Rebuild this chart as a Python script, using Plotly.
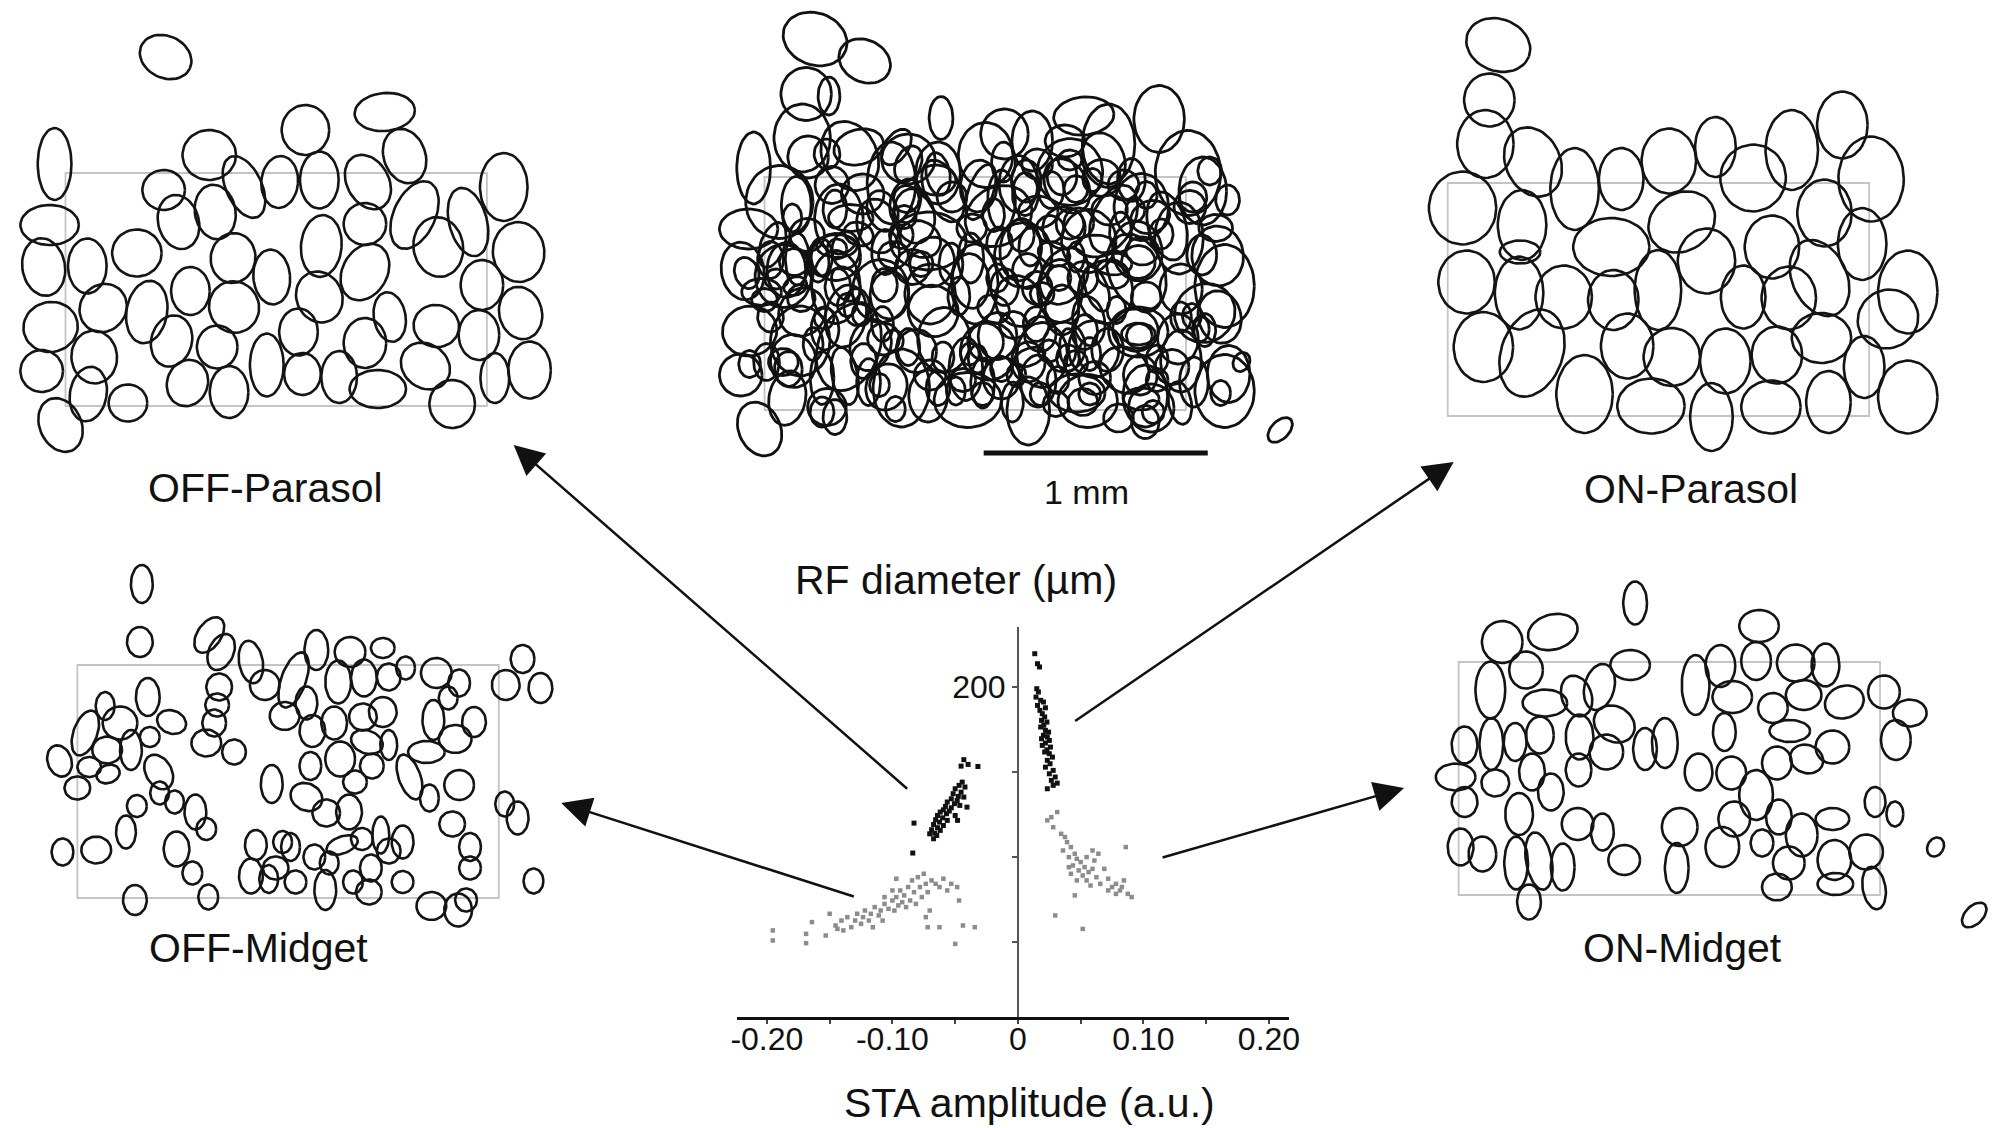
import numpy as np
import plotly.graph_objects as go

W, H = 2011, 1128
FONT = "Liberation Sans, Arial, Helvetica, sans-serif"

# ---------------- scatter: STA amplitude vs RF diameter ----------------
OFFP_AMP = [-0.0431, -0.0397, -0.0319, -0.0453, -0.0444, -0.0469, -0.0422, -0.0500, -0.0453, -0.0516,
            -0.0475, -0.0431, -0.0531, -0.0484, -0.0563, -0.0506, -0.0463, -0.0578, -0.0531, -0.0594,
            -0.0547, -0.0619, -0.0569, -0.0641, -0.0500, -0.0600, -0.0656, -0.0563, -0.0625, -0.0672,
            -0.0594, -0.0641, -0.0688, -0.0619, -0.0663, -0.0703, -0.0647, -0.0672, -0.0828, -0.0838,
            -0.0406, -0.0481]
OFFP_DIAM = [157.3, 154.5, 153.3, 153.5, 144.1, 142.2, 141.2, 140.2, 138.2, 137.3,
             135.7, 135.3, 134.3, 133.3, 132.4, 131.4, 130.4, 129.8, 129.0, 127.8,
             127.1, 126.5, 125.5, 124.5, 124.5, 123.1, 122.0, 121.6, 120.6, 119.2,
             118.6, 117.3, 116.1, 115.7, 114.1, 113.7, 112.7, 110.8, 120.0, 102.4,
             129.4, 121.6]
ONP_AMP = [0.0134, 0.0156, 0.0172, 0.0150, 0.0163, 0.0144, 0.0181, 0.0203, 0.0156, 0.0219,
           0.0175, 0.0194, 0.0213, 0.0188, 0.0231, 0.0206, 0.0181, 0.0219, 0.0244, 0.0203,
           0.0234, 0.0188, 0.0250, 0.0219, 0.0194, 0.0259, 0.0231, 0.0213, 0.0250, 0.0275,
           0.0234, 0.0256, 0.0219, 0.0281, 0.0250, 0.0297, 0.0266, 0.0313, 0.0281, 0.0234]
ONP_DIAM = [219.6, 213.7, 211.8, 199.0, 197.1, 194.1, 192.2, 191.2, 189.2, 187.8,
            186.3, 184.3, 182.4, 180.4, 179.4, 177.5, 176.5, 174.5, 173.5, 171.6,
            170.6, 169.6, 168.6, 167.1, 165.7, 164.7, 163.1, 161.8, 160.8, 158.8,
            156.9, 154.9, 152.9, 151.0, 149.0, 147.1, 145.1, 143.5, 142.2, 140.2]
OFFM_AMP = [-0.1953, -0.1953, -0.1688, -0.1688, -0.1641, -0.1531, -0.1500, -0.1453, -0.1438, -0.1406,
            -0.1391, -0.1359, -0.1328, -0.1297, -0.1281, -0.1250, -0.1234, -0.1219, -0.1188, -0.1172,
            -0.1156, -0.1141, -0.1109, -0.1094, -0.1078, -0.1063, -0.1031, -0.1000, -0.0984, -0.0969,
            -0.0953, -0.0938, -0.0922, -0.0906, -0.0891, -0.0875, -0.0859, -0.0844, -0.0828, -0.0813,
            -0.0797, -0.0781, -0.0766, -0.0750, -0.0734, -0.0719, -0.0703, -0.0688, -0.0656, -0.0625,
            -0.0594, -0.0563, -0.0531, -0.0484, -0.0469, -0.0734, -0.0719, -0.0625, -0.0500, -0.0438,
            -0.0344, -0.0969, -0.1000, -0.1063]
OFFM_DIAM = [56.9, 51.0, 54.9, 49.4, 61.8, 53.9, 66.7, 59.8, 57.8, 62.7,
             56.9, 64.7, 58.8, 62.7, 66.7, 60.8, 64.7, 68.6, 62.7, 66.7,
             58.8, 70.6, 65.7, 68.6, 62.7, 72.5, 69.6, 74.5, 68.6, 76.5,
             71.6, 80.4, 73.5, 77.5, 70.6, 82.4, 74.5, 86.3, 79.4, 72.5,
             88.2, 82.4, 76.5, 90.2, 84.3, 79.4, 68.6, 86.3, 84.3, 82.4,
             87.3, 80.4, 84.3, 82.4, 74.5, 64.7, 58.8, 58.8, 49.0, 59.8,
             58.8, 87.3, 80.4, 76.5]
ONM_AMP = [0.0234, 0.0266, 0.0313, 0.0281, 0.0344, 0.0375, 0.0391, 0.0422, 0.0359, 0.0453,
           0.0406, 0.0469, 0.0500, 0.0438, 0.0531, 0.0484, 0.0563, 0.0594, 0.0516, 0.0625,
           0.0547, 0.0656, 0.0578, 0.0422, 0.0609, 0.0641, 0.0688, 0.0719, 0.0750, 0.0781,
           0.0813, 0.0844, 0.0859, 0.0875, 0.0906, 0.0781, 0.0719, 0.0828, 0.0453, 0.0297,
           0.0516, 0.0469, 0.0594, 0.0547, 0.0406]
ONM_DIAM = [121.6, 123.5, 126.5, 117.6, 113.7, 111.8, 108.8, 105.9, 103.9, 102.0,
            100.0, 99.0, 97.1, 95.1, 94.1, 92.2, 91.2, 93.1, 89.2, 88.2,
            86.3, 84.3, 83.3, 90.2, 98.0, 102.0, 93.1, 87.3, 82.4, 84.3,
            80.4, 86.3, 105.9, 78.4, 76.5, 78.4, 80.4, 82.4, 77.5, 65.7,
            57.8, 86.3, 103.9, 100.0, 94.1]

X_TICKS = [-0.20, -0.15, -0.10, -0.05, 0.0, 0.05, 0.10, 0.15, 0.20]
X_TICK_TEXT = ["-0.20", "", "-0.10", "", "0", "", "0.10", "", "0.20"]
Y_TICKS = [50, 100, 150, 200]
Y_TICK_TEXT = ["", "", "", "200"]

# ---------------- receptive-field mosaics ----------------
# each RF: (centre x, centre y, width, height, tilt deg clockwise), array units, y downward
OFF_PARASOL_RF = [
    (101, -116, 54, 42, 25), (-11, -9, 34, 72, 0), (-16, 52, 59, 40, 0), (145, -18, 54, 50, 0),
    (242, -43, 48, 50, 0), (322, -61, 61, 38, -5), (342, -17, 42, 56, -20), (442, 14, 48, 68, 0),
    (99, 17, 43, 40, 0), (114, 49, 41, 55, -15), (151, 39, 41, 55, -10), (180, 14, 36, 66, -25),
    (216, 9, 37, 52, 5), (256, 7, 39, 57, 0), (305, 9, 42, 58, -30), (352, 42, 42, 72, 25),
    (302, 51, 43, 42, 0), (406, 49, 38, 70, -15), (376, 74, 50, 60, -10), (457, 79, 52, 60, -5),
    (-22, 94, 43, 58, -10), (22, 93, 39, 55, 0), (72, 80, 50, 47, 0), (169, 85, 45, 50, 10),
    (208, 104, 37, 55, -5), (258, 73, 41, 62, 5), (302, 99, 45, 60, 30), (420, 112, 43, 50, 0),
    (459, 140, 43, 53, -15), (417, 162, 41, 50, 0), (374, 153, 46, 42, 10), (327, 144, 32, 50, -10),
    (302, 170, 43, 50, 0), (256, 124, 46, 52, -25), (235, 159, 39, 47, 0), (203, 192, 34, 63, 0),
    (239, 201, 37, 42, 0), (276, 204, 36, 52, 0), (315, 216, 57, 38, 0), (363, 193, 52, 44, 35),
    (390, 231, 46, 48, 0), (433, 205, 29, 50, 0), (468, 197, 43, 57, 0), (165, 219, 39, 52, 0),
    (123, 210, 41, 47, 20), (153, 174, 41, 43, 0), (170, 134, 50, 52, -30), (126, 118, 39, 48, 0),
    (107, 168, 41, 52, 15), (82, 139, 41, 63, 10), (38, 135, 46, 50, 40), (-15, 154, 55, 50, -10),
    (29, 184, 46, 53, -5), (-24, 198, 43, 42, 0), (23, 221, 37, 55, 10), (63, 230, 39, 37, 0),
    (-5, 252, 42, 56, -25),
]
ON_PARASOL_RF = [
    (51, -138, 66, 52, 20), (42, -83, 51, 53, 0), (38, -39, 57, 68, 0), (86, -21, 55, 72, -25),
    (128, 6, 49, 82, 0), (175, -4, 45, 62, 0), (223, -22, 55, 65, 0), (270, -36, 41, 60, 0),
    (308, -5, 66, 67, 20), (347, -33, 53, 80, 0), (398, -58, 51, 67, 0), (427, -4, 66, 85, 0),
    (380, 30, 55, 67, 0), (418, 61, 49, 72, 0), (464, 109, 60, 83, 0), (444, 136, 62, 58, -30),
    (464, 214, 60, 73, 0), (420, 184, 41, 62, 0), (384, 219, 45, 62, 0), (377, 155, 60, 50, 0),
    (375, 95, 55, 80, -25), (327, 64, 55, 63, 0), (344, 115, 55, 63, 0), (332, 172, 51, 57, 0),
    (326, 224, 60, 53, 0), (266, 234, 43, 68, 0), (280, 178, 51, 65, 0), (298, 114, 45, 63, 0),
    (261, 78, 58, 65, 0), (236, 39, 70, 58, -30), (165, 64, 77, 58, 0), (117, 114, 57, 63, 0),
    (167, 117, 51, 60, 0), (212, 107, 47, 80, 0), (181, 163, 53, 65, 0), (226, 174, 57, 58, 0),
    (205, 223, 68, 55, 0), (138, 211, 57, 78, 0), (85, 170, 62, 90, 20), (36, 164, 60, 70, 0),
    (19, 99, 57, 63, 0), (72, 110, 49, 73, 0), (75, 42, 49, 70, 0), (15, 25, 68, 73, 0),
    (73, 69, 41, 23, 0),
]
OFF_MIDGET_RF = [
    (65, -81, 22, 38, 0), (63, -23, 26, 30, 0), (133, -30, 24, 40, 35), (145, -13, 25, 38, 25),
    (175, -3, 24, 43, -10), (189, 20, 30, 30, 0), (218, 15, 25, 58, 20), (241, -15, 24, 40, 0),
    (275, -13, 31, 30, 0), (308, -17, 24, 20, 0), (331, 3, 19, 23, 0), (362, 8, 31, 30, 0),
    (385, 18, 22, 27, 0), (449, -6, 24, 28, 0), (432, 20, 28, 30, 0), (467, 23, 24, 30, 0),
    (263, 17, 26, 43, 0), (289, 13, 26, 37, 0), (314, 12, 24, 27, 0), (143, 22, 26, 27, 0),
    (141, 40, 24, 23, 0), (138, 58, 24, 27, 0), (130, 78, 30, 27, 0), (158, 87, 24, 25, 0),
    (71, 32, 24, 38, 0), (28, 41, 19, 28, 0), (8, 68, 24, 47, 20), (43, 58, 35, 33, 0),
    (95, 57, 30, 23, 20), (73, 72, 20, 20, 0), (54, 85, 22, 40, 0), (30, 85, 30, 27, 0),
    (-18, 96, 24, 32, -20), (12, 102, 24, 20, 0), (31, 109, 24, 18, -20), (0, 123, 26, 23, 0),
    (82, 107, 26, 37, -30), (83, 128, 19, 23, 0), (60, 141, 20, 22, 0), (49, 167, 20, 33, 0),
    (98, 137, 19, 23, 0), (119, 147, 22, 35, 0), (130, 164, 20, 22, 0), (100, 184, 26, 35, 0),
    (116, 208, 20, 23, 0), (132, 232, 20, 25, 0), (58, 235, 24, 30, 0), (-15, 187, 22, 27, 0),
    (19, 185, 30, 27, 0), (196, 119, 22, 38, 0), (231, 132, 33, 27, 25), (235, 101, 22, 28, 0),
    (209, 51, 30, 28, 0), (231, 38, 22, 33, 0), (237, 66, 26, 32, 0), (259, 58, 26, 33, 0),
    (265, 94, 30, 35, 0), (288, 52, 28, 27, 0), (308, 47, 28, 30, 0), (292, 77, 33, 23, 20),
    (297, 101, 24, 25, 0), (314, 80, 17, 30, 0), (335, 112, 22, 47, -20), (352, 87, 37, 22, 0),
    (359, 55, 22, 40, 0), (381, 74, 33, 28, 0), (400, 57, 24, 30, 0), (374, 33, 19, 23, 0),
    (385, 120, 30, 30, 0), (355, 133, 19, 27, 0), (378, 159, 26, 25, 0), (396, 182, 22, 28, 0),
    (396, 203, 22, 23, 0), (357, 241, 30, 28, 0), (384, 245, 28, 33, 0), (392, 235, 22, 23, 0),
    (431, 139, 19, 25, 0), (444, 153, 22, 33, 0), (460, 216, 20, 25, 0), (328, 217, 22, 22, 0),
    (294, 227, 26, 25, 0), (314, 186, 24, 25, 0), (328, 177, 22, 33, 0), (296, 203, 22, 27, 0),
    (306, 170, 17, 37, 0), (287, 174, 22, 22, 0), (278, 217, 20, 23, 0), (250, 225, 22, 40, 0),
    (267, 180, 33, 17, -20), (274, 147, 26, 35, 0), (251, 148, 28, 27, 0), (254, 198, 19, 23, 0),
    (239, 192, 22, 25, 0), (215, 182, 19, 28, 0), (220, 217, 22, 23, 0), (200, 203, 26, 23, 0),
    (180, 180, 22, 30, 0), (175, 211, 24, 35, 0), (193, 214, 19, 28, 0), (207, 177, 19, 22, 0),
    (280, 117, 24, 23, 0),
]
ON_MIDGET_RF = [
    (178, -59, 24, 43, 0), (44, -20, 41, 42, 0), (95, -30, 51, 35, -15), (68, 8, 34, 37, 0),
    (32, 28, 30, 57, 0), (173, 3, 40, 30, 0), (142, 25, 30, 47, 15), (119, 34, 30, 42, -20),
    (87, 41, 45, 27, 0), (157, 62, 43, 35, 30), (33, 82, 24, 52, 0), (6, 83, 26, 37, 0),
    (57, 80, 23, 38, 0), (82, 73, 28, 37, 0), (122, 75, 28, 45, 0), (149, 90, 34, 35, 0),
    (188, 87, 24, 42, 0), (208, 81, 26, 50, 0), (239, 23, 28, 60, 0), (264, 4, 30, 42, 0),
    (303, -36, 40, 32, 0), (300, -1, 30, 38, 0), (276, 35, 40, 32, 0), (268, 70, 23, 38, 0),
    (340, 1, 38, 37, 0), (370, 3, 28, 43, 0), (317, 46, 30, 30, 0), (348, 33, 36, 30, 0),
    (389, 40, 40, 32, -20), (429, 30, 32, 33, 0), (455, 51, 34, 27, 0), (441, 78, 30, 40, 0),
    (334, 69, 41, 22, 0), (377, 85, 34, 33, 0), (351, 97, 34, 28, 20), (321, 101, 30, 33, 0),
    (242, 110, 28, 37, 0), (275, 111, 30, 33, 0), (300, 133, 34, 50, 0), (278, 157, 32, 35, 0),
    (266, 185, 34, 40, 0), (223, 165, 36, 38, 0), (220, 206, 24, 50, 0), (167, 198, 32, 30, 0),
    (145, 170, 23, 37, 0), (120, 162, 32, 32, 0), (93, 130, 26, 37, 0), (121, 108, 26, 33, 0),
    (61, 152, 28, 42, 0), (37, 121, 28, 27, 0), (-3, 115, 40, 27, 0), (6, 140, 26, 30, 0),
    (74, 110, 26, 37, 0), (2, 185, 26, 37, 0), (24, 192, 28, 35, 0), (58, 201, 24, 53, 0),
    (81, 199, 26, 58, -10), (105, 205, 24, 47, 0), (71, 240, 24, 35, 0), (321, 225, 30, 27, 0),
    (333, 201, 32, 33, 0), (346, 173, 32, 43, 0), (306, 181, 23, 27, 0), (377, 157, 34, 22, 0),
    (379, 198, 34, 40, 0), (380, 222, 36, 22, 0), (411, 190, 34, 35, 0), (419, 226, 23, 43, -10),
    (420, 140, 21, 30, 0), (440, 152, 17, 25, 0), (481, 185, 16, 20, 30), (520, 253, 18, 30, 45),
    (323, 155, 26, 35, 0),
]

ARRAY_W, ARRAY_H = 425, 233          # electrode-array outline (array units)
UNITS_PER_MM = 226                   # scale bar: 1 mm

LABELS = ["OFF-Parasol", "ON-Parasol", "OFF-Midget", "ON-Midget"]


def ellipse_xy(rfs):
    s = np.linspace(0, 2 * np.pi, 48)
    cs, sn = np.cos(s), np.sin(s)
    xs, ys = [], []
    for cx, cy, w, h, t in rfs:
        r = np.radians(t)
        px = cx + (w / 2) * cs * np.cos(r) + (h / 2) * sn * np.sin(r)
        py = cy + (w / 2) * cs * np.sin(r) - (h / 2) * sn * np.cos(r)
        xs.extend(px.tolist()); xs.append(None)
        ys.extend(py.tolist()); ys.append(None)
    return xs, ys


def px_x(v):
    return v / W


def px_y(v):
    return 1 - v / H


fig = go.Figure()
layout = dict(width=W, height=H, margin=dict(l=0, r=0, t=0, b=0),
              paper_bgcolor="white", plot_bgcolor="rgba(0,0,0,0)", showlegend=False,
              font=dict(family=FONT, color="#111"))

# panel boxes (page px) and the page position of each electrode-array corner
PANELS = [
    (2, OFF_PARASOL_RF, (0, 0, 560, 470), (60, 173)),
    (3, ON_PARASOL_RF, (1420, 0, 2011, 470), (1454, 183)),
    (4, OFF_MIDGET_RF, (0, 550, 580, 935), (72, 665)),
    (5, ON_MIDGET_RF, (1420, 550, 2011, 935), (1465, 662)),
]
MID_AX, MID_BOX, MID_ORIGIN = 6, (700, 0, 1320, 472), (765, 177)

shapes = []


def add_panel_axes(n, box, origin):
    bx0, by0, bx1, by1 = box
    ox, oy = origin
    layout[f"xaxis{n}"] = dict(domain=[px_x(bx0), px_x(bx1)], range=[bx0 - ox, bx1 - ox],
                               visible=False, anchor=f"y{n}", fixedrange=True)
    layout[f"yaxis{n}"] = dict(domain=[px_y(by1), px_y(by0)], range=[by1 - oy, by0 - oy],
                               visible=False, anchor=f"x{n}", fixedrange=True)
    shapes.append(dict(type="rect", xref=f"x{n}", yref=f"y{n}", x0=0, y0=0, x1=ARRAY_W, y1=ARRAY_H,
                       line=dict(color="#c4c4c4", width=1.8), layer="below"))


for n, rfs, box, origin in PANELS:
    add_panel_axes(n, box, origin)
    ex, ey = ellipse_xy(rfs)
    fig.add_trace(go.Scatter(x=ex, y=ey, mode="lines", xaxis=f"x{n}", yaxis=f"y{n}",
                             line=dict(color="#141414", width=2.6), hoverinfo="skip"))

# middle: all cells together
add_panel_axes(MID_AX, MID_BOX, MID_ORIGIN)
for _, rfs, _, _ in PANELS:
    ex, ey = ellipse_xy(rfs)
    fig.add_trace(go.Scatter(x=ex, y=ey, mode="lines", xaxis=f"x{MID_AX}", yaxis=f"y{MID_AX}",
                             line=dict(color="#111111", width=2.8), hoverinfo="skip"))
shapes.append(dict(type="line", xref=f"x{MID_AX}", yref=f"y{MID_AX}",
                   x0=221, x1=221 + UNITS_PER_MM, y0=276, y1=276,
                   line=dict(color="#111", width=5)))

# ---------------- scatter axes ----------------
SX0, SX1, SY0, SY1 = 737, 1294, 627, 1017
XR = [-0.224, 0.216]
YR = [6, 235.3]
zero_px = SX0 + (0 - XR[0]) / (XR[1] - XR[0]) * (SX1 - SX0)
layout["xaxis"] = dict(domain=[px_x(SX0), px_x(SX1)], range=XR, anchor="y",
                       showline=True, linecolor="#111", linewidth=2.5, ticks="outside",
                       ticklen=4, tickwidth=2, tickcolor="#444", tickvals=X_TICKS, ticktext=X_TICK_TEXT,
                       ticklabelstandoff=-12,
                       showgrid=False, zeroline=False, tickfont=dict(size=32, family=FONT, color="#111"),
                       fixedrange=True)
layout["yaxis"] = dict(domain=[px_y(SY1), px_y(SY0)], range=YR, anchor="free", position=px_x(zero_px),
                       showline=True, linecolor="#555", linewidth=2, ticks="outside",
                       ticklen=5, tickwidth=2, tickcolor="#555", tickvals=Y_TICKS, ticktext=Y_TICK_TEXT,
                       showgrid=False, zeroline=False, tickfont=dict(size=32, family=FONT, color="#111"),
                       fixedrange=True)

for amp, diam, col, sz in [(OFFM_AMP, OFFM_DIAM, "#8c8c8c", 4.5), (ONM_AMP, ONM_DIAM, "#8c8c8c", 4.5),
                           (OFFP_AMP, OFFP_DIAM, "#111", 5), (ONP_AMP, ONP_DIAM, "#111", 5)]:
    fig.add_trace(go.Scatter(x=amp, y=diam, mode="markers", xaxis="x", yaxis="y",
                             marker=dict(symbol="square", size=sz, color=col, line=dict(width=0)),
                             cliponaxis=False))

# ---------------- text ----------------
ann = []
TEXTS = [(LABELS[0], 262, 488, 41), (LABELS[1], 1699, 489, 41), (LABELS[2], 255, 948, 41),
         (LABELS[3], 1691, 948, 41), ("RF diameter (µm)", 958, 580, 41),
         ("STA amplitude (a.u.)", 1032, 1103, 41), ("1 mm", 1090, 492, 34)]
for txt, x, y, sz in TEXTS:
    ann.append(dict(text=txt, x=px_x(x), y=px_y(y), xref="paper", yref="paper", showarrow=False,
                    xanchor="center", yanchor="middle", font=dict(size=sz, family=FONT, color="#111")))

# arrows: (tip, tail) in page px
ARROWS = [((512, 445), (907, 790)), ((560, 803), (854, 897)),
          ((1460, 462), (1080, 722)), ((1410, 788), (1167, 858))]
for (tx, ty), (sx, sy) in ARROWS:
    ann.append(dict(text="", x=px_x(tx), y=px_y(ty), xref="paper", yref="paper",
                    ax=sx - tx, ay=sy - ty, axref="pixel", ayref="pixel", showarrow=True,
                    arrowhead=2, arrowsize=2.4, arrowwidth=2.5, arrowcolor="#111", standoff=0))

layout["annotations"] = ann
layout["shapes"] = shapes
fig.update_layout(**layout)
fig.write_html("out.html")
